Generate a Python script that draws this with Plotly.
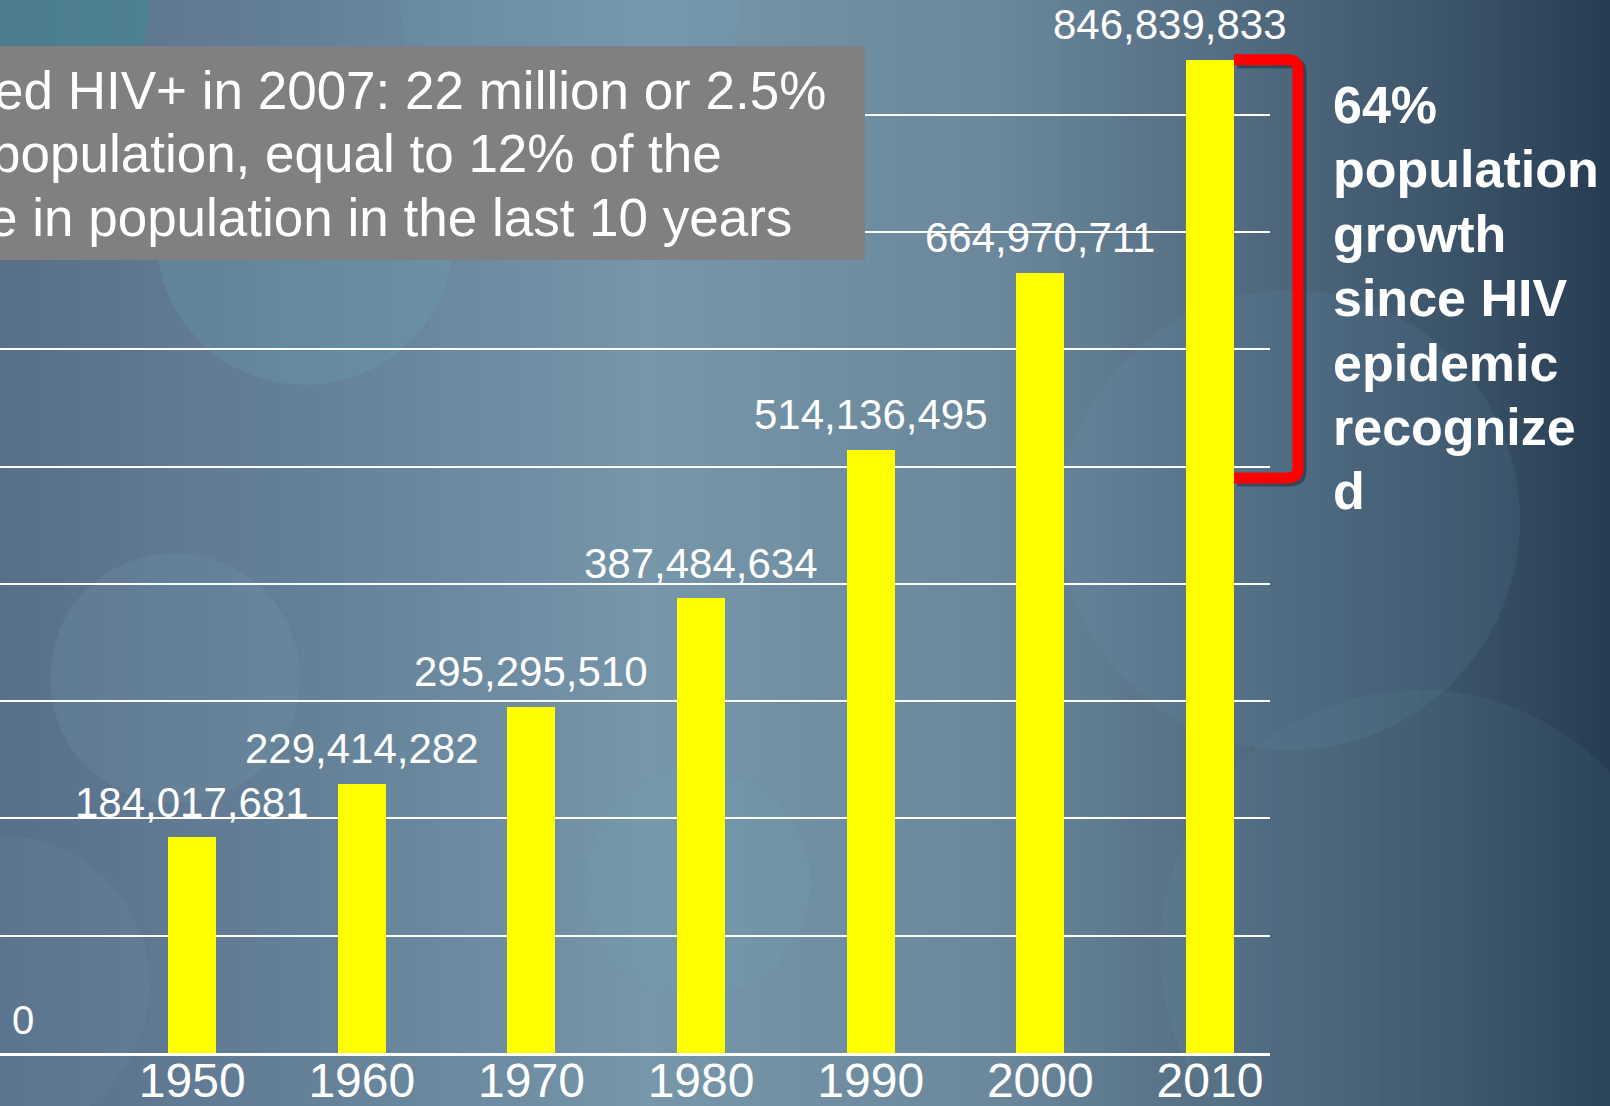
import plotly.graph_objects as go

# ---------------- data ----------------
years = [1950, 1960, 1970, 1980, 1990, 2000, 2010]
population = [184017681, 229414282, 295295510, 387484634, 514136495, 664970711, 846839833]
tick_labels = [str(y) for y in years]
box_lines = [
    "ed HIV+ in 2007: 22 million or 2.5%",
    "population, equal to 12% of the",
    "e in population in the last 10 years",
]
side_lines = ["64%", "population", "growth", "since HIV", "epidemic", "recognize", "d"]

# ---------------- geometry ----------------
W, H = 1610, 1106
ML, MR, MT, MB = 0, 340, 0, 53
PW, PH = W - ML - MR, H - MT - MB
X0, X1 = 1938.67, 2013.54
Y0, Y1 = 0, 897.7e6
BAR_W = 2.83


def px_x(v):  # data x -> pixel
    return ML + (v - X0) / (X1 - X0) * PW


def px_y(v):  # data y -> pixel
    return MT + (1 - (v - Y0) / (Y1 - Y0)) * PH


def paper_x(p):
    return (p - ML) / PW


def paper_y(p):
    return (MT + PH - p) / PH


FONT = "Liberation Sans, Arial, sans-serif"

fig = go.Figure()
fig.add_trace(go.Bar(
    x=years, y=population, width=BAR_W,
    marker=dict(color="#ffff00", line=dict(width=0)),
    hoverinfo="skip",
))

shapes = []

# background gradient (horizontal)
stops = [(0, (88, 112, 138)), (400, (104, 134, 156)), (650, (118, 150, 170)),
         (1000, (106, 135, 155)), (1250, (80, 106, 128)), (1450, (60, 84, 106)),
         (1610, (38, 60, 82))]


def col_at(x):
    for (xa, ca), (xb, cb) in zip(stops[:-1], stops[1:]):
        if xa <= x <= xb:
            t = (x - xa) / (xb - xa)
            return tuple(round(ca[i] + (cb[i] - ca[i]) * t) for i in range(3))
    return stops[-1][1]


step = 10
for x in range(0, W, step):
    c = col_at(x + step / 2)
    shapes.append(dict(type="rect", xref="paper", yref="paper", layer="below",
                       x0=paper_x(x), x1=paper_x(x + step + 1), y0=paper_y(H), y1=paper_y(0),
                       fillcolor="rgb(%d,%d,%d)" % c, line=dict(width=0)))

# decorative bubbles
bubbles = [((0, 0), 150, "rgba(60,140,150,0.45)"),
           ((305, 236), 149, "rgba(110,170,185,0.22)"),
           ((175, 678), 125, "rgba(120,160,180,0.18)"),
           ((0, 985), 150, "rgba(120,150,175,0.15)"),
           ((698, 883), 113, "rgba(110,165,180,0.18)"),
           ((570, 0), 170, "rgba(110,170,185,0.15)"),
           ((1290, 520), 230, "rgba(110,160,180,0.12)"),
           ((1420, 950), 260, "rgba(110,160,180,0.08)")]
for (cx, cy), r, c in bubbles:
    shapes.append(dict(type="circle", xref="paper", yref="paper", layer="below",
                       x0=paper_x(cx - r), x1=paper_x(cx + r), y0=paper_y(cy + r), y1=paper_y(cy - r),
                       fillcolor=c, line=dict(width=0)))

# grey text box
shapes.append(dict(type="rect", xref="paper", yref="paper", layer="above",
                   x0=paper_x(-5), x1=paper_x(865), y0=paper_y(260), y1=paper_y(46),
                   fillcolor="#808080", line=dict(width=0)))

# red bracket from 1990 level to 2010 level
bx0 = px_x(years[-1] + BAR_W / 2)
bx1 = bx0 + 64
ytop = px_y(population[-1])
ybot = px_y(population[4]) + 28
r = 10


def bracket_path(dx, dy):
    pts = [(bx0 + dx, ytop + dy), (bx1 - r + dx, ytop + dy), (bx1 + dx, ytop + r + dy),
           (bx1 + dx, ybot - r + dy), (bx1 - r + dx, ybot + dy), (bx0 + dx, ybot + dy)]
    P = [(paper_x(a), paper_y(b)) for a, b in pts]
    return ("M %f,%f L %f,%f Q %f,%f %f,%f L %f,%f Q %f,%f %f,%f L %f,%f" % (
        P[0][0], P[0][1], P[1][0], P[1][1],
        paper_x(bx1 + dx), paper_y(ytop + dy), P[2][0], P[2][1],
        P[3][0], P[3][1],
        paper_x(bx1 + dx), paper_y(ybot + dy), P[4][0], P[4][1],
        P[5][0], P[5][1]))


shapes.append(dict(type="path", xref="paper", yref="paper", layer="above",
                   path=bracket_path(3, 3), line=dict(color="rgba(20,30,40,0.45)", width=11)))
shapes.append(dict(type="path", xref="paper", yref="paper", layer="above",
                   path=bracket_path(0, 0), line=dict(color="#ff0000", width=11)))

annotations = []
# value labels
for i, (yr, v) in enumerate(zip(years, population)):
    annotations.append(dict(x=yr, y=v, xref="x", yref="y", text=f"{v:,}", showarrow=False,
                            yanchor="middle", yshift=35, xshift=(-40 if i == len(years) - 1 else 0),
                            font=dict(family=FONT, size=42, color="white")))
# "0" axis label
annotations.append(dict(x=paper_x(22.6), y=paper_y(1020), xref="paper", yref="paper", text="0",
                        showarrow=False, xanchor="center", yanchor="middle",
                        font=dict(family=FONT, size=40, color="white")))
# box text
box_x = [-8, -11, -14]
box_y = [90, 154, 218]
for t, bx, by in zip(box_lines, box_x, box_y):
    annotations.append(dict(x=paper_x(bx), y=paper_y(by), xref="paper", yref="paper", text=t,
                            showarrow=False, xanchor="left", yanchor="middle",
                            font=dict(family=FONT, size=53, color="white")))
# side text
for k, t in enumerate(side_lines):
    annotations.append(dict(x=paper_x(1331), y=paper_y(105 + k * 64.4), xref="paper", yref="paper",
                            text="<b>%s</b>" % t, showarrow=False, xanchor="left", yanchor="middle",
                            font=dict(family=FONT, size=52, color="white")))

fig.update_layout(
    width=W, height=H,
    margin=dict(l=ML, r=MR, t=MT, b=MB, pad=0, autoexpand=False),
    paper_bgcolor="#4a6278", plot_bgcolor="rgba(0,0,0,0)",
    showlegend=False, bargap=0,
    shapes=shapes, annotations=annotations,
    xaxis=dict(range=[X0, X1], tickvals=years, ticktext=tick_labels, showgrid=False,
               zeroline=False, showline=True, linecolor="white", linewidth=3, automargin=False,
               ticks="", ticklen=0, ticklabelstandoff=-17,
               tickfont=dict(family=FONT, size=48, color="white")),
    yaxis=dict(range=[Y0, Y1], dtick=100e6, showgrid=True, gridcolor="white", gridwidth=1.5,
               zeroline=False, showticklabels=False, ticks="", automargin=False),
)

fig.write_html("out.html", config={"displayModeBar": False},
               post_script="document.body.style.margin='0';document.body.style.overflow='hidden';")
